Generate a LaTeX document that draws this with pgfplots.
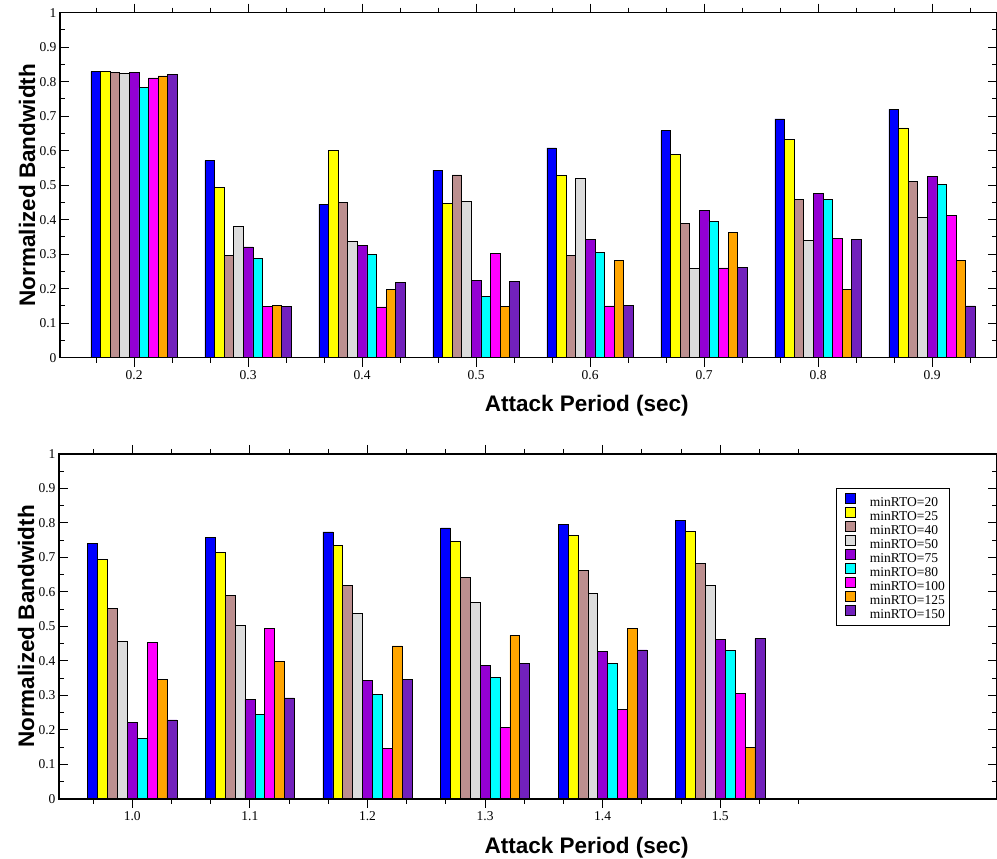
\documentclass[border=0pt]{standalone}
\usepackage{pgfplots}
\pgfplotsset{compat=1.18}
\usepackage{pgfplotstable}
\usepackage{fontspec}
\setmainfont{Liberation Serif}
\newfontfamily\labelfont{Liberation Sans}

% Grace-style palette
\definecolor{gBlue}{RGB}{0,0,255}
\definecolor{gYellow}{RGB}{255,255,0}
\definecolor{gBrown}{RGB}{188,143,143}
\definecolor{gGrey}{RGB}{220,220,220}
\definecolor{gViolet}{RGB}{148,0,211}
\definecolor{gCyan}{RGB}{0,255,255}
\definecolor{gMagenta}{RGB}{255,0,255}
\definecolor{gOrange}{RGB}{255,165,0}
\definecolor{gIndigo}{RGB}{114,33,188}

% Attack periods 0.2 ... 0.9 s (x = index)
\pgfplotstableread{
x  r20   r25   r40   r50   r75   r80   r100  r125  r150
0  0.829 0.829 0.827 0.824 0.826 0.783 0.811 0.817 0.822
1  0.571 0.493 0.297 0.380 0.321 0.287 0.149 0.152 0.149
2  0.445 0.600 0.449 0.338 0.325 0.300 0.147 0.199 0.218
3  0.544 0.447 0.530 0.454 0.224 0.177 0.303 0.148 0.221
4  0.608 0.529 0.297 0.520 0.343 0.306 0.150 0.281 0.151
5  0.658 0.589 0.389 0.258 0.427 0.395 0.260 0.363 0.262
6  0.692 0.633 0.458 0.341 0.477 0.459 0.345 0.199 0.342
7  0.720 0.666 0.510 0.406 0.525 0.503 0.412 0.281 0.150
}\shortperiods

% Attack periods 1.0 ... 1.5 s (x = index)
\pgfplotstableread{
x  r20   r25   r40   r50   r75   r80   r100  r125  r150
0  0.741 0.694 0.552 0.458 0.223 0.176 0.455 0.347 0.229
1  0.758 0.715 0.589 0.503 0.289 0.245 0.495 0.399 0.293
2  0.774 0.735 0.619 0.538 0.343 0.303 0.146 0.444 0.347
3  0.786 0.747 0.642 0.569 0.387 0.353 0.208 0.474 0.393
4  0.796 0.763 0.663 0.595 0.428 0.394 0.260 0.494 0.432
5  0.808 0.776 0.682 0.619 0.463 0.431 0.306 0.150 0.465
}\longperiods

\pgfplotsset{
  bwpanel/.style={
    scale only axis,
    height=345pt,
    ymin=0, ymax=1,
    ytick={0,0.1,0.2,0.3,0.4,0.5,0.6,0.7,0.8,0.9,1},
    yticklabels={0,0.1,0.2,0.3,0.4,0.5,0.6,0.7,0.8,0.9,1},
    minor y tick num=1,
    tick align=inside,
    major tick length=9pt,
    minor tick length=5pt,
    every tick/.style={black, line width=1pt},
    axis line style={black, line width=1.3pt},
    tick label style={font=\fontsize{13.5}{15}\selectfont},
    label style={font=\labelfont\bfseries\fontsize{22.5}{26}\selectfont},
    xlabel={Attack Period (sec)},
    ylabel={Normalized Bandwidth},
    xlabel style={at={(axis description cs:0.5625,-0.14)}, anchor=center},
    ylabel style={at={(axis description cs:-0.0352,0.5)}, anchor=center},
    ybar=0pt,
    axis on top,
    every axis plot/.append style={draw=black, line width=0.6pt},
    legend image code/.code={%
      \path (-5pt,0pt);
      \draw[##1, line width=0.8pt] (0pt,-0.5pt) rectangle (10pt,9.5pt);},
  },
}

\begin{document}
\begin{tikzpicture}[x=1pt,y=1pt]
\useasboundingbox (0,0) rectangle (997,859);

% upper panel
\begin{axis}[bwpanel,
  at={(60pt,501.3pt)}, anchor=south west,
  width=936.5pt,
  xmin=-0.65, xmax=7.565,
  bar width=9.6pt,
  xtick={0,1,2,3,4,5,6,7},
  xticklabels={0.2,0.3,0.4,0.5,0.6,0.7,0.8,0.9},
  minor xtick={-0.3333,0.3333,0.6667,1.3333,1.6667,2.3333,2.6667,3.3333,3.6667,4.3333,4.6667,5.3333,5.6667,6.3333,6.6667,7.3333},
]
\addplot[fill=gBlue]    table[x=x,y=r20]  {\shortperiods};
\addplot[fill=gYellow]  table[x=x,y=r25]  {\shortperiods};
\addplot[fill=gBrown]   table[x=x,y=r40]  {\shortperiods};
\addplot[fill=gGrey]    table[x=x,y=r50]  {\shortperiods};
\addplot[fill=gViolet]  table[x=x,y=r75]  {\shortperiods};
\addplot[fill=gCyan]    table[x=x,y=r80]  {\shortperiods};
\addplot[fill=gMagenta] table[x=x,y=r100] {\shortperiods};
\addplot[fill=gOrange]  table[x=x,y=r125] {\shortperiods};
\addplot[fill=gIndigo]  table[x=x,y=r150] {\shortperiods};
\end{axis}

% lower panel
\begin{axis}[bwpanel,
  at={(59pt,60pt)}, anchor=south west,
  width=938pt,
  xmin=-0.623, xmax=7.353,
  bar width=9.9pt,
  xtick={0,1,2,3,4,5},
  xticklabels={1.0,1.1,1.2,1.3,1.4,1.5},
  minor xtick={-0.3333,0.3333,0.6667,1.3333,1.6667,2.3333,2.6667,3.3333,3.6667,4.3333,4.6667,5.3333,5.6667},
  legend style={
    at={(rel axis cs:0.8284,0.9006)}, anchor=north west,
    draw=black, line width=1pt, fill=white,
    inner xsep=4pt, inner ysep=4.4pt,
    row sep=-2.2pt,
    font=\fontsize{13.5}{15}\selectfont,
    nodes={inner sep=1pt},
    /tikz/every odd column/.append style={column sep=12.7pt},
  },
  legend cell align=left,
]
\addplot[fill=gBlue]    table[x=x,y=r20]  {\longperiods};
\addplot[fill=gYellow]  table[x=x,y=r25]  {\longperiods};
\addplot[fill=gBrown]   table[x=x,y=r40]  {\longperiods};
\addplot[fill=gGrey]    table[x=x,y=r50]  {\longperiods};
\addplot[fill=gViolet]  table[x=x,y=r75]  {\longperiods};
\addplot[fill=gCyan]    table[x=x,y=r80]  {\longperiods};
\addplot[fill=gMagenta] table[x=x,y=r100] {\longperiods};
\addplot[fill=gOrange]  table[x=x,y=r125] {\longperiods};
\addplot[fill=gIndigo]  table[x=x,y=r150] {\longperiods};
\legend{minRTO=20,minRTO=25,minRTO=40,minRTO=50,minRTO=75,minRTO=80,minRTO=100,minRTO=125,minRTO=150}
\end{axis}
\end{tikzpicture}
\end{document}
